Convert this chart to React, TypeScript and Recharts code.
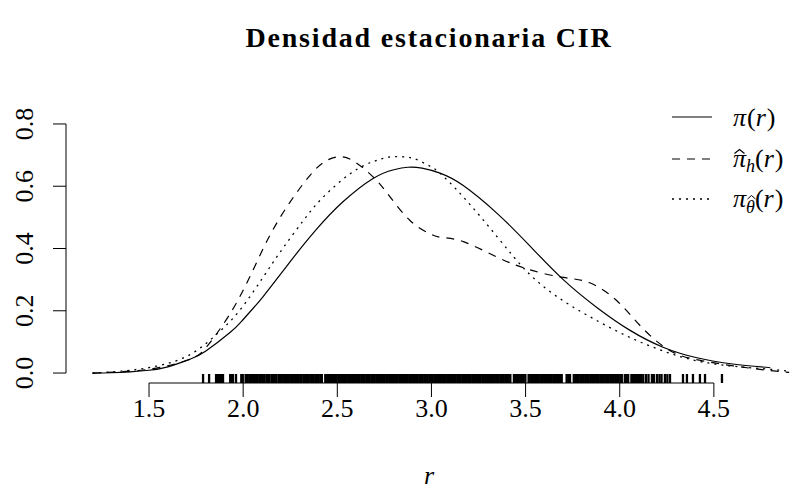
import React from 'react';
import { ComposedChart, Line, Scatter, XAxis, YAxis, ReferenceLine } from 'recharts';

const FONT = '"Liberation Serif", "DejaVu Serif", serif';

const xTicks = [1.5, 2.0, 2.5, 3.0, 3.5, 4.0, 4.5];
const yTicks = [0.0, 0.2, 0.4, 0.6, 0.8];

// pi(r): stationary density
const piTrue = [
  { r: 1.2, d: 0.0 }, { r: 1.3, d: 0.001 }, { r: 1.4, d: 0.004 }, { r: 1.5, d: 0.009 },
  { r: 1.6, d: 0.02 }, { r: 1.72, d: 0.045 }, { r: 1.8, d: 0.07 }, { r: 1.93, d: 0.13 },
  { r: 2.0, d: 0.172 }, { r: 2.105, d: 0.245 }, { r: 2.25, d: 0.358 }, { r: 2.39, d: 0.462 },
  { r: 2.53, d: 0.55 }, { r: 2.69, d: 0.625 }, { r: 2.8, d: 0.653 }, { r: 2.875, d: 0.661 },
  { r: 2.95, d: 0.658 }, { r: 3.045, d: 0.642 }, { r: 3.167, d: 0.603 }, { r: 3.35, d: 0.512 },
  { r: 3.52, d: 0.41 }, { r: 3.7, d: 0.3 }, { r: 3.88, d: 0.21 }, { r: 4.055, d: 0.137 },
  { r: 4.23, d: 0.083 }, { r: 4.41, d: 0.049 }, { r: 4.6, d: 0.029 }, { r: 4.8, d: 0.017 },
];

// pi_hat_h(r): kernel estimate
const piKernel = [
  { r: 1.2, d: 0.0 }, { r: 1.35, d: 0.004 }, { r: 1.54, d: 0.016 }, { r: 1.72, d: 0.045 },
  { r: 1.81, d: 0.087 }, { r: 1.93, d: 0.19 }, { r: 2.04, d: 0.315 }, { r: 2.14, d: 0.44 },
  { r: 2.25, d: 0.55 }, { r: 2.355, d: 0.635 }, { r: 2.43, d: 0.678 }, { r: 2.5, d: 0.694 },
  { r: 2.58, d: 0.683 }, { r: 2.69, d: 0.63 }, { r: 2.78, d: 0.566 }, { r: 2.886, d: 0.49 },
  { r: 2.99, d: 0.448 }, { r: 3.06, d: 0.435 }, { r: 3.17, d: 0.422 }, { r: 3.35, d: 0.372 },
  { r: 3.52, d: 0.332 }, { r: 3.7, d: 0.307 }, { r: 3.84, d: 0.29 }, { r: 3.985, d: 0.232 },
  { r: 4.12, d: 0.145 }, { r: 4.27, d: 0.071 }, { r: 4.44, d: 0.039 }, { r: 4.675, d: 0.017 },
  { r: 4.9, d: 0.002 },
];

// pi_theta_hat(r): parametric estimate
const piParam = [
  { r: 1.2, d: 0.0 }, { r: 1.35, d: 0.006 }, { r: 1.54, d: 0.022 }, { r: 1.72, d: 0.06 },
  { r: 1.86, d: 0.125 }, { r: 1.98, d: 0.2 }, { r: 2.105, d: 0.307 }, { r: 2.21, d: 0.4 },
  { r: 2.32, d: 0.49 }, { r: 2.42, d: 0.562 }, { r: 2.57, d: 0.641 }, { r: 2.69, d: 0.679 },
  { r: 2.78, d: 0.694 }, { r: 2.86, d: 0.694 }, { r: 2.92, d: 0.686 }, { r: 2.99, d: 0.665 },
  { r: 3.045, d: 0.642 }, { r: 3.167, d: 0.567 }, { r: 3.35, d: 0.437 }, { r: 3.52, d: 0.318 },
  { r: 3.7, d: 0.232 }, { r: 3.88, d: 0.168 }, { r: 4.055, d: 0.114 }, { r: 4.23, d: 0.071 },
  { r: 4.41, d: 0.039 }, { r: 4.6, d: 0.022 }, { r: 4.76, d: 0.014 }, { r: 4.9, d: 0.006 },
];

// observed sample (rug)
const rugR = [
  1.787, 1.819, 1.856, 1.866, 1.874, 1.883, 1.893, 1.931, 1.94, 1.946, 1.962, 1.99, 1.998,
  2.013, 2.021, 2.032, 2.041, 2.049, 2.058, 2.069, 2.077, 2.086, 2.095,
  2.104, 2.112, 2.123, 2.131, 2.14, 2.151, 2.159, 2.168, 2.177, 2.188, 2.196,
  2.205, 2.214, 2.222, 2.233, 2.241, 2.25, 2.259, 2.268, 2.276, 2.285, 2.294,
  2.303, 2.311, 2.322, 2.33, 2.339, 2.348, 2.357, 2.366, 2.374, 2.383, 2.392,
  2.401, 2.41, 2.418, 2.436, 2.445, 2.453, 2.462, 2.471, 2.48, 2.488, 2.497,
  2.506, 2.514, 2.523, 2.531, 2.54, 2.549, 2.558, 2.567, 2.575, 2.584, 2.593,
  2.602, 2.61, 2.619, 2.628, 2.637, 2.645, 2.654, 2.663, 2.672, 2.681, 2.69, 2.698,
  2.707, 2.716, 2.724, 2.733, 2.742, 2.751, 2.76, 2.768, 2.777, 2.786, 2.795,
  2.804, 2.812, 2.821, 2.83, 2.839, 2.848, 2.856, 2.865, 2.874, 2.883, 2.892,
  2.901, 2.909, 2.918, 2.927, 2.936, 2.945, 2.953, 2.962, 2.971, 2.98, 2.989, 2.997,
  3.006, 3.015, 3.024, 3.032, 3.041, 3.05, 3.059, 3.067, 3.076, 3.085, 3.094,
  3.103, 3.111, 3.12, 3.129, 3.138, 3.146, 3.155, 3.164, 3.173, 3.182, 3.19,
  3.199, 3.208, 3.217, 3.226, 3.234, 3.243, 3.252, 3.261, 3.27, 3.278, 3.287, 3.296,
  3.305, 3.313, 3.322, 3.331, 3.34, 3.349, 3.357, 3.366, 3.375, 3.384, 3.393,
  3.401, 3.41, 3.419, 3.438, 3.446, 3.455, 3.464, 3.473, 3.482, 3.49, 3.499,
  3.516, 3.525, 3.534, 3.543, 3.551, 3.56, 3.569, 3.578, 3.587, 3.595,
  3.604, 3.613, 3.622, 3.63, 3.639, 3.648, 3.657, 3.666, 3.674, 3.683, 3.692,
  3.718, 3.727, 3.736, 3.756, 3.765, 3.773, 3.782, 3.791, 3.8,
  3.809, 3.818, 3.826, 3.835, 3.844, 3.853, 3.862, 3.87, 3.879, 3.888, 3.897,
  3.906, 3.914, 3.923, 3.932, 3.941, 3.95, 3.958, 3.967, 3.976, 3.985, 3.994,
  4.003, 4.011, 4.027, 4.036, 4.045, 4.062, 4.071, 4.08, 4.089, 4.098,
  4.107, 4.116, 4.125, 4.14, 4.153,
  4.171, 4.182, 4.198, 4.211, 4.222, 4.24, 4.253, 4.267, 4.336, 4.357, 4.389, 4.426, 4.453, 4.543,
];

const X_MIN = 1.059;
const X_MAX = 4.915;
const Y_MIN = -0.032;
const Y_MAX = 0.832;

const rugData = rugR.map((r) => ({ r, y: Y_MIN }));

const XTick = (props: any) => {
  const { x, y, payload } = props;
  return (
    <text x={x} y={y + 18} textAnchor="middle" fontFamily={FONT} fontSize={26} fill="#000">
      {Number(payload.value).toFixed(1)}
    </text>
  );
};

const YTick = (props: any) => {
  const { x, y, payload } = props;
  return (
    <text
      transform={`translate(${x - 18},${y}) rotate(-90)`}
      textAnchor="middle"
      fontFamily={FONT}
      fontSize={26}
      fill="#000"
    >
      {Number(payload.value).toFixed(1)}
    </text>
  );
};

const RugMark = (props: any) => (
  <line x1={props.cx} x2={props.cx} y1={props.cy - 9} y2={props.cy} stroke="#000" strokeWidth={2.3} />
);

export default function App() {
  return (
    <div style={{ position: 'absolute', left: 0, top: 0, width: 795, height: 490, background: '#fff' }}>
      <ComposedChart width={795} height={490} margin={{ top: 114, right: 3, bottom: 47, left: 6 }}>
        <XAxis
          type="number"
          dataKey="r"
          domain={[X_MIN, X_MAX]}
          ticks={xTicks}
          allowDataOverflow
          axisLine={false}
          tickLine={{ stroke: '#000', strokeWidth: 1 }}
          tickSize={14}
          height={60}
          tick={<XTick />}
        />
        <YAxis
          type="number"
          domain={[Y_MIN, Y_MAX]}
          ticks={yTicks}
          allowDataOverflow
          axisLine={false}
          tickLine={{ stroke: '#000', strokeWidth: 1 }}
          tickSize={13}
          width={60}
          tick={<YTick />}
        />
        <ReferenceLine
          segment={[{ x: X_MIN, y: 0 }, { x: X_MIN, y: 0.8 }]}
          stroke="#000"
          strokeWidth={1}
          ifOverflow="visible"
        />
        <ReferenceLine
          segment={[{ x: 1.5, y: Y_MIN }, { x: 4.5, y: Y_MIN }]}
          stroke="#000"
          strokeWidth={1}
          ifOverflow="visible"
        />
        <Scatter data={rugData} dataKey="y" shape={<RugMark />} isAnimationActive={false} />
        <Line data={piTrue} dataKey="d" type="natural" stroke="#000" strokeWidth={1.2} dot={false} isAnimationActive={false} />
        <Line data={piKernel} dataKey="d" type="natural" stroke="#000" strokeWidth={1.2} strokeDasharray="8 7" dot={false} isAnimationActive={false} />
        <Line data={piParam} dataKey="d" type="natural" stroke="#000" strokeWidth={1.3} strokeDasharray="2 5" dot={false} isAnimationActive={false} />
      </ComposedChart>
      <svg
        width={795}
        height={490}
        style={{ position: 'absolute', left: 0, top: 0, pointerEvents: 'none' }}
        fontFamily={FONT}
      >
        <text x={429} y={47} textAnchor="middle" fontSize={28} fontWeight="bold" letterSpacing={1.8} fill="#000">
          Densidad estacionaria CIR
        </text>
        <text x={429} y={484} textAnchor="middle" fontSize={26} fontStyle="italic" fill="#000">
          r
        </text>
        <line x1={672} x2={712} y1={117} y2={117} stroke="#000" strokeWidth={1.2} />
        <line x1={672} x2={712} y1={159} y2={159} stroke="#000" strokeWidth={1.2} strokeDasharray="8 7" />
        <line x1={672} x2={712} y1={199} y2={199} stroke="#000" strokeWidth={1.3} strokeDasharray="2 5" />
        <text x={733} y={126} fontSize={26} fill="#000">
          <tspan fontStyle="italic">π</tspan>
          <tspan dx={1}>(</tspan>
          <tspan fontStyle="italic">r</tspan>
          <tspan dx={1}>)</tspan>
        </text>
        <text x={733} y={167} fontSize={26} fill="#000">
          <tspan fontStyle="italic">π</tspan>
          <tspan fontStyle="italic" fontSize={18} dy={5}>h</tspan>
          <tspan dy={-5}>(</tspan>
          <tspan fontStyle="italic">r</tspan>
          <tspan dx={1}>)</tspan>
        </text>
        <polyline points="734.5,153.5 739.5,149.5 744.5,153.5" fill="none" stroke="#000" strokeWidth={1.2} />
        <text x={733} y={207} fontSize={26} fill="#000">
          <tspan fontStyle="italic">π</tspan>
          <tspan fontStyle="italic" fontSize={18} dy={6}>θ</tspan>
          <tspan dy={-6}>(</tspan>
          <tspan fontStyle="italic">r</tspan>
          <tspan dx={1}>)</tspan>
        </text>
        <polyline points="747.5,199 751.5,195.5 755.5,199" fill="none" stroke="#000" strokeWidth={1} />
      </svg>
    </div>
  );
}
